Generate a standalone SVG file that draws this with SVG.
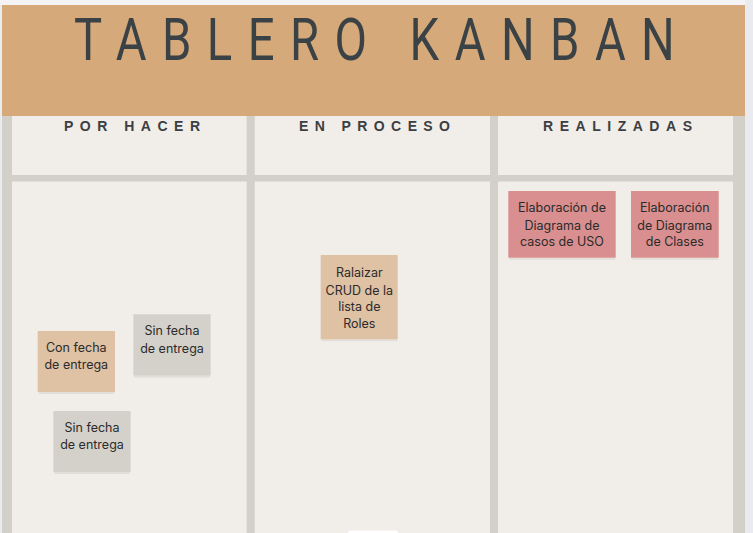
<svg xmlns="http://www.w3.org/2000/svg" width="753" height="533" viewBox="0 0 753 533">
<style>
.cell{fill:#f1ede8}
.colh{font-family:"Liberation Sans",Arial,sans-serif;font-weight:bold;font-size:14px;fill:#3b3f43}
.note text{font-family:Inter,"Noto Sans",sans-serif;font-size:12.5px;fill:#2b2b2b;text-anchor:middle}
.tan{fill:#dfc1a4}
.gray{fill:#d4d1ca}
.rose{fill:#d98f8f}
.shadow{fill:#000;opacity:0.06}
</style>
<rect x="0" y="0" width="753" height="533" fill="#e9ebef"/>
<rect x="0" y="0" width="745" height="5" fill="#f4f4f6"/>
<g id="board">
<rect x="2" y="116" width="743" height="417" fill="#d3d0c9"/>
<rect class="cell" x="12" y="116" width="234.6" height="59"/>
<rect class="cell" x="254.8" y="116" width="235.2" height="59"/>
<rect class="cell" x="498" y="116" width="235" height="59"/>
<rect class="cell" x="12" y="181.5" width="234.6" height="352"/>
<rect class="cell" x="254.8" y="181.5" width="235.2" height="352"/>
<rect class="cell" x="498" y="181.5" width="235" height="352"/>
<rect x="348" y="530.5" width="50" height="6" rx="3" fill="#ffffff"/>
</g>
<g id="header">
<rect x="2" y="5" width="743" height="111" fill="#d5a97a"/>
<text transform="scale(0.8,1)" x="92.5" y="60" textLength="751" lengthAdjust="spacing" font-family="Roboto,'Liberation Sans',sans-serif" font-weight="400" font-size="59" fill="#3b4245">TABLERO KANBAN</text>
</g>
<g id="col-por-hacer"><text class="colh" x="64" y="131" textLength="136" lengthAdjust="spacing">POR HACER</text></g>
<g id="col-en-proceso"><text class="colh" x="299" y="131" textLength="151" lengthAdjust="spacing">EN PROCESO</text></g>
<g id="col-realizadas"><text class="colh" x="543" y="131" textLength="149" lengthAdjust="spacing">REALIZADAS</text></g>
<g id="note-con-fecha" class="note">
<rect class="shadow" x="38.5" y="392" width="76" height="2" rx="1"/>
<rect class="tan" x="37.7" y="331" width="77.3" height="61"/>
<text x="76.3" y="352">Con fecha</text>
<text x="76.3" y="369">de entrega</text>
</g>
<g id="note-sin-fecha-1" class="note">
<rect class="shadow" x="134" y="375.7" width="76" height="2" rx="1"/>
<rect class="gray" x="133.3" y="314.3" width="77.4" height="61.4"/>
<text x="172" y="335">Sin fecha</text>
<text x="172" y="353">de entrega</text>
</g>
<g id="note-sin-fecha-2" class="note">
<rect class="shadow" x="54" y="472" width="76" height="2" rx="1"/>
<rect class="gray" x="53.3" y="411" width="77.4" height="61"/>
<text x="92" y="432">Sin fecha</text>
<text x="92" y="449">de entrega</text>
</g>
<g id="note-crud" class="note">
<rect class="shadow" x="321.5" y="339.3" width="76" height="2" rx="1"/>
<rect class="tan" x="320.7" y="255" width="77" height="84.3"/>
<text x="359.3" y="277">Ralaizar</text>
<text x="359.3" y="294.5">CRUD de la</text>
<text x="359.3" y="311">lista de</text>
<text x="359.3" y="328">Roles</text>
</g>
<g id="note-casos-uso" class="note">
<rect class="shadow" x="509" y="257.7" width="106.5" height="2" rx="1"/>
<rect class="rose" x="508.3" y="191" width="107.4" height="66.7"/>
<text x="562" y="212">Elaboración de</text>
<text x="562" y="229.5">Diagrama de</text>
<text x="562" y="245.5">casos de USO</text>
</g>
<g id="note-clases" class="note">
<rect class="shadow" x="631.5" y="257.7" width="87" height="2" rx="1"/>
<rect class="rose" x="631" y="191" width="87.7" height="66.7"/>
<text x="674.8" y="212">Elaboración</text>
<text x="674.8" y="229.5">de Diagrama</text>
<text x="674.8" y="245.5">de Clases</text>
</g>
<g id="connectors"></g>
</svg>
